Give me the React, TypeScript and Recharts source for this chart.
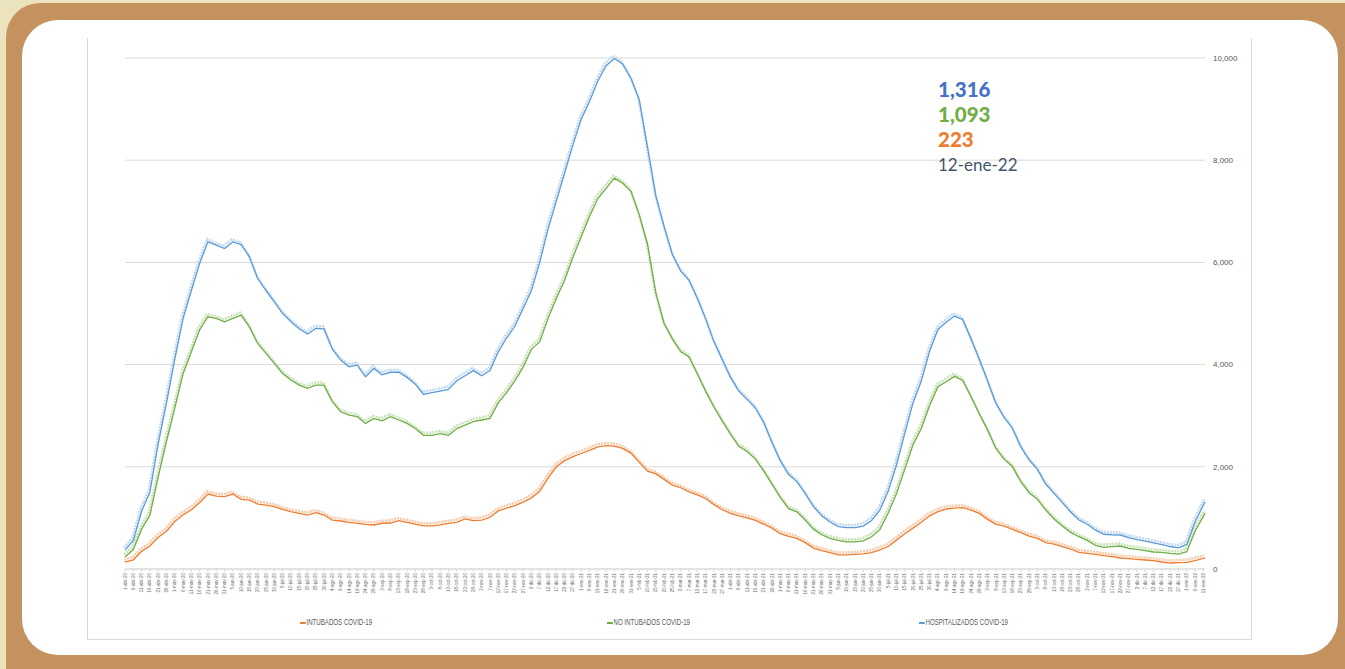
import { LineChart, Line, XAxis, YAxis, CartesianGrid } from 'recharts';

// ocupación hospitalaria COVID-19, cada 5 días desde 1-abr-20 + último día (12-ene-22)
const meses = ['ene', 'feb', 'mar', 'abr', 'may', 'jun', 'jul', 'ago', 'sep', 'oct', 'nov', 'dic'];
const inicio = Date.UTC(2020, 3, 1);
const tickDays = Array.from({ length: 131 }, (_, i) => i * 5);
const days = [...tickDays, 651];
const yTicks = [0, 2000, 4000, 6000, 8000, 10000];

const hospitalizados = [
  370, 560, 1130, 1500, 2450, 3250, 4100, 4900, 5450, 5980,
  6403, 6337, 6272, 6400, 6350, 6109, 5685, 5450, 5229, 5001,
  4838, 4700, 4600, 4707, 4700, 4300, 4088, 3958, 3990, 3762,
  3925, 3800, 3850, 3850, 3750, 3617, 3416, 3450, 3483, 3516,
  3683, 3783, 3883, 3783, 3883, 4250, 4520, 4750, 5100, 5450,
  6000, 6650, 7200, 7750, 8300, 8800, 9150, 9550, 9850, 9990,
  9880, 9600, 9180, 8250, 7300, 6700, 6150, 5830, 5650, 5300,
  4900, 4450, 4100, 3750, 3480, 3320, 3150, 2870, 2480, 2120,
  1850, 1710, 1480, 1220, 1040, 920, 830, 810, 810, 840,
  950, 1150, 1520, 2030, 2650, 3250, 3680, 4260, 4688, 4830,
  4950, 4880, 4500, 4100, 3680, 3240, 2960, 2750, 2390, 2132,
  1950, 1663, 1480, 1300, 1115, 958, 875, 760, 680, 670,
  665, 612, 577, 545, 510, 475, 440, 415, 480, 920,
  1250, 1316,
];

const noIntubados = [
  235, 380, 780, 1050, 1800, 2500, 3150, 3820, 4250, 4680,
  4936, 4903, 4838, 4903, 4968, 4740, 4414, 4218, 4023, 3827,
  3697, 3599, 3534, 3599, 3599, 3273, 3077, 3012, 2980, 2849,
  2947, 2900, 2980, 2916, 2849, 2749, 2615, 2615, 2649, 2615,
  2749, 2816, 2882, 2916, 2949, 3250, 3450, 3680, 3950, 4300,
  4450, 4900, 5300, 5650, 6100, 6500, 6900, 7250, 7450, 7650,
  7550, 7390, 6930, 6350, 5400, 4800, 4500, 4250, 4150, 3820,
  3480, 3170, 2900, 2640, 2400, 2300, 2150, 1920, 1660, 1400,
  1180, 1120, 960, 780, 670, 600, 560, 530, 530, 550,
  630, 770, 1090, 1470, 1950, 2430, 2750, 3200, 3566, 3664,
  3770, 3690, 3371, 3032, 2719, 2360, 2145, 2002, 1708, 1493,
  1363, 1154, 980, 840, 717, 632, 560, 460, 424, 437,
  450, 404, 385, 359, 333, 326, 306, 293, 339, 740,
  1030, 1093,
];

const intubados = [
  135, 180, 345, 450, 620, 740, 930, 1060, 1160, 1300,
  1467, 1428, 1415, 1467, 1363, 1350, 1271, 1252, 1219, 1167,
  1121, 1089, 1056, 1102, 1056, 958, 939, 913, 893, 874,
  861, 895, 900, 945, 912, 878, 845, 845, 865, 892,
  912, 979, 945, 958, 1012, 1136, 1191, 1240, 1308, 1392,
  1520, 1780, 2000, 2120, 2200, 2260, 2320, 2390, 2414, 2404,
  2360, 2268, 2087, 1915, 1860, 1754, 1643, 1590, 1510, 1450,
  1380, 1260, 1160, 1090, 1040, 1000, 950, 880, 800, 690,
  640, 600, 515, 410, 360, 320, 275, 275, 285, 295,
  320, 375, 440, 565, 690, 800, 915, 1040, 1121, 1174,
  1190, 1200, 1154, 1089, 971, 874, 841, 776, 711, 645,
  600, 515, 485, 440, 391, 326, 305, 287, 261, 241,
  215, 202, 189, 176, 163, 137, 117, 124, 130, 165,
  210, 223,
];

const series = [
  { key: 'intubados', name: 'INTUBADOS COVID-19', color: '#ED7D31', glow: '#F8CBAD' },
  { key: 'noIntubados', name: 'NO INTUBADOS COVID-19', color: '#70AD47', glow: '#C9E2B8' },
  { key: 'hospitalizados', name: 'HOSPITALIZADOS COVID-19', color: '#5B9BD5', glow: '#C3D9F0' },
];

const resumen = [
  { text: '1,316', color: '#4472C4' },
  { text: '1,093', color: '#70AD47' },
  { text: '223', color: '#ED7D31' },
];
const fechaCorte = '12-ene-22';

const data = days.map((day, i) => ({
  day,
  intubados: intubados[i],
  noIntubados: noIntubados[i],
  hospitalizados: hospitalizados[i],
}));

function fechaLabel(day: number) {
  const d = new Date(inicio + day * 86400000);
  return `${d.getUTCDate()}-${meses[d.getUTCMonth()]}-${String(d.getUTCFullYear()).slice(2)}`;
}

const axisFont = "'Liberation Sans Narrow', 'Liberation Sans', Arial, sans-serif";

function FechaTick({ x, y, payload }: any) {
  return (
    <text
      x={x}
      y={y}
      transform={`rotate(-90, ${x}, ${y})`}
      textAnchor="end"
      dy="0.35em"
      fontSize={4.5}
      fill="#6b6b6b"
      fontFamily={axisFont}
    >
      {fechaLabel(payload.value)}
    </text>
  );
}

export default function App() {
  return (
    <div style={{ position: 'absolute', left: 0, top: 0, width: 1345, height: 669, overflow: 'hidden', background: '#EAE3BE' }}>
      <style>{`.glow .recharts-line-curve { transform: translate(-1px, -2.5px); }`}</style>
      <div style={{ position: 'absolute', left: 6, top: 3, width: 1400, height: 720, borderRadius: 34, background: '#C4925E' }} />
      <div style={{ position: 'absolute', left: 22, top: 20, width: 1316, height: 635, borderRadius: 36, background: '#fff' }} />

      <div
        style={{
          position: 'absolute',
          left: 87,
          top: 38,
          width: 1165,
          height: 602,
          boxSizing: 'border-box',
          borderLeft: '1px solid #D9D9D9',
          borderRight: '1px solid #D9D9D9',
          borderBottom: '1px solid #D9D9D9',
        }}
      />

      <div style={{ position: 'absolute', left: 87, top: 38 }}>
        <LineChart width={1165} height={602} data={data} margin={{ top: 20, right: 7, left: 38, bottom: 41 }}>
          <CartesianGrid vertical={false} stroke="#D9D9D9" />
          <XAxis
            dataKey="day"
            type="number"
            scale="linear"
            domain={[0, 651]}
            ticks={tickDays}
            interval={0}
            height={30}
            stroke="#D9D9D9"
            tickSize={3}
            tickMargin={1}
            tick={<FechaTick />}
          />
          <YAxis
            orientation="right"
            domain={[0, 10000]}
            allowDataOverflow
            ticks={yTicks}
            width={40}
            axisLine={false}
            tickLine={false}
            tickFormatter={(v: number) => v.toLocaleString('en-US')}
            tick={{ fontSize: 8, fill: '#595959', fontFamily: axisFont }}
          />
          {series.map((s) => (
            <Line
              key={s.key + '-glow'}
              className="glow"
              dataKey={s.key}
              stroke={s.glow}
              strokeWidth={2.6}
              strokeDasharray="2 1"
              dot={false}
              activeDot={false}
              legendType="none"
              isAnimationActive={false}
            />
          ))}
          {series.map((s) => (
            <Line
              key={s.key}
              dataKey={s.key}
              name={s.name}
              stroke={s.color}
              strokeWidth={1.3}
              dot={false}
              activeDot={false}
              isAnimationActive={false}
            />
          ))}
        </LineChart>
      </div>

      {series.map((s, i) => (
        <div
          key={s.key + '-legend'}
          style={{
            position: 'absolute',
            left: [300, 607, 919][i],
            top: 616,
            height: 12,
            lineHeight: '12px',
            fontSize: 8.5,
            fontFamily: axisFont,
            color: '#595959',
            whiteSpace: 'nowrap',
            transform: 'scaleX(0.72)',
            transformOrigin: 'left center',
          }}
        >
          <span style={{ display: 'inline-block', width: 8, height: 1.5, background: s.color, verticalAlign: 'middle', marginRight: 1 }} />
          {s.name}
        </div>
      ))}

      <div style={{ position: 'absolute', left: 938, top: 77, fontFamily: "Lato, 'Open Sans', sans-serif", lineHeight: '25px' }}>
        {resumen.map((r) => (
          <div key={r.text} style={{ color: r.color, fontWeight: 900, fontSize: 20.5 }}>
            {r.text}
          </div>
        ))}
        <div style={{ color: '#44546A', fontSize: 17, fontWeight: 400 }}>{fechaCorte}</div>
      </div>
    </div>
  );
}
